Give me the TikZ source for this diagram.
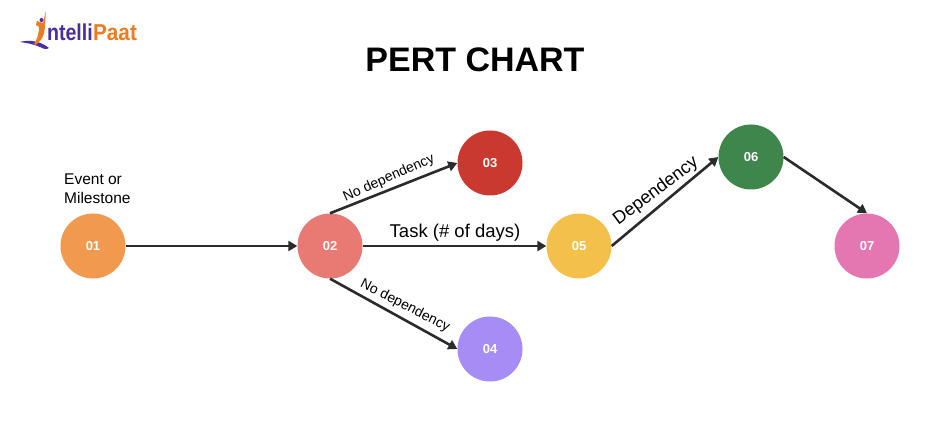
\documentclass[tikz,border=0pt]{standalone}
\usepackage{fontspec}
\setmainfont{Liberation Sans}
\usetikzlibrary{arrows.meta}
\definecolor{lblue}{HTML}{4B2E9E}
\definecolor{lorange}{HTML}{F07A1E}
\definecolor{line}{HTML}{2B2B2B}
\tikzset{
  x=1pt,y=-1pt,
  event/.style={circle,minimum size=65pt,inner sep=0pt,text=white,font=\fontsize{13}{15}\selectfont\bfseries},
  link/.style={line width=2.6pt,draw=line,-{Triangle[length=9pt,width=10pt]}},
  lab/.style={text=black,inner sep=0pt,font=\fontsize{14}{16}\selectfont},
  biglab/.style={text=black,inner sep=0pt,font=\fontsize{18.5}{21}\selectfont},
}
\begin{document}
\begin{tikzpicture}
\useasboundingbox (0,0) rectangle (950,435);
\fill[white] (0,0) rectangle (950,435);
% logo
\fill[lblue] (20,42) .. controls (30,39) and (42,42) .. (49,48) .. controls (46,50) and (44,49) .. (40,47) .. controls (33,44) and (27,43) .. (20,42) -- cycle;
\fill[lorange] (46,11) -- (45,24) .. controls (45,32) and (43,38) .. (40,41) -- (36,45) -- (34,44) .. controls (38,38) and (39,32) .. (39,27) -- (36,25) -- (37,21) -- (43,23) -- cycle;
\fill[lblue] (41.5,20) circle (2pt);
\node[anchor=base west,inner sep=0pt,text=lblue,xscale=.85,font=\fontsize{23}{25}\selectfont\bfseries] (logoa) at (47,41) {ntelli};
\node[anchor=base west,inner sep=0pt,text=lorange,xscale=.9,font=\fontsize{23}{25}\selectfont\bfseries] (logob) at (93,41) {Paat};
% title
\node[font=\fontsize{34}{38}\selectfont\bfseries,inner sep=0pt] (title) at (475,60) {PERT CHART};
% events
\node[event,fill={rgb,255:red,240;green,153;blue,79}] (n1) at (93,246) {01};
\node[event,fill={rgb,255:red,232;green,122;blue,115}] (n2) at (330,246) {02};
\node[event,fill={rgb,255:red,201;green,57;blue,47}] (n3) at (490,163) {03};
\node[event,fill={rgb,255:red,166;green,140;blue,245}] (n4) at (490,349) {04};
\node[event,fill={rgb,255:red,243;green,193;blue,74}] (n5) at (579,246) {05};
\node[event,fill={rgb,255:red,62;green,134;blue,75}] (n6) at (751,157) {06};
\node[event,fill={rgb,255:red,228;green,118;blue,178}] (n7) at (867,246) {07};
% connectors
\draw[link] (n1) -- (n2);
\draw[link] (n2.north) -- (n3.west);
\draw[link] (n2.south) -- (n4.west);
\draw[link] (n2) -- (n5);
\draw[link] (n5.east) -- (n6.west);
\draw[link] (n6.east) -- (n7.north);
% labels
\node[lab,align=left,anchor=north west,font=\fontsize{15.5}{19}\selectfont] (evt) at (64,174) {Event or\\Milestone};
\node[lab,rotate=24] (nd1) at (389,178) {No dependency};
\node[lab,rotate=-27] (nd2) at (405,306) {No dependency};
\node[biglab] (task) at (455,233) {Task (\# of days)};
\node[biglab,rotate=37,font=\fontsize{18}{21}\selectfont] (dep) at (656,191) {Dependency};
\end{tikzpicture}
\end{document}
